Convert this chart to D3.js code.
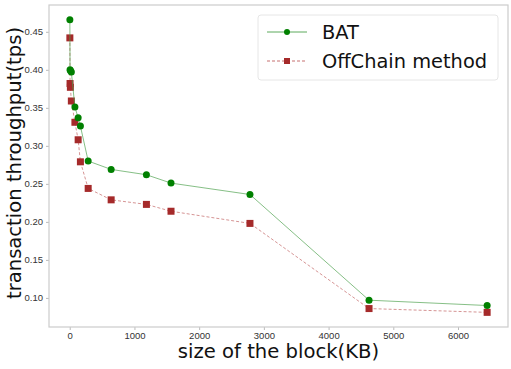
<!DOCTYPE html>
<html>
<head>
<meta charset="utf-8">
<script src="https://cdn.jsdelivr.net/npm/d3@7"></script>
<style>
  body { margin: 0; background: #fff; }
  svg { font-family: "DejaVu Sans", sans-serif; }
</style>
</head>
<body>
<svg width="511" height="369"></svg>
<script>
//	block sizes (KB), shared by both series
var blockSize = [2, 5, 10, 25, 80, 130, 165, 285, 640, 1185, 1565, 2785, 4625, 6450];
//	throughput values
var batTps = [0.466, 0.400, 0.399, 0.397, 0.351, 0.337, 0.326, 0.280, 0.269, 0.262, 0.251, 0.236, 0.097, 0.090];
var offChainTps = [0.442, 0.382, 0.377, 0.359, 0.331, 0.308, 0.279, 0.244, 0.229, 0.223, 0.214, 0.198, 0.086, 0.081];
var xTicks = [0, 1000, 2000, 3000, 4000, 5000, 6000];
var yTicks = [0.10, 0.15, 0.20, 0.25, 0.30, 0.35, 0.40, 0.45];
var seriesNames = ["BAT", "OffChain method"];

var svg = d3.select("svg"),
	margin = {top: 5, right: 3, bottom: 42, left: 49};
var width = +svg.attr("width") - margin.left - margin.right,
	height = +svg.attr("height") - margin.top - margin.bottom;
var g = svg.append("g").attr("transform", "translate(" + margin.left + "," + margin.top + ")");

//	matplotlib style 5% padding on both axes
var xPad = (6450 - 2) * 0.05;
var x = d3.scaleLinear().domain([2 - xPad, 6450 + xPad]).range([0, width]);
var yPad = (0.466 - 0.081) * 0.05;
var y = d3.scaleLinear().domain([0.081 - yPad, 0.466 + yPad]).range([height, 0]);

var batData = blockSize.map(function(d, i) { return {x: d, y: batTps[i]}; });
var offData = blockSize.map(function(d, i) { return {x: d, y: offChainTps[i]}; });

//	axes
var axisX = g.append("g")
	.attr("transform", "translate(0," + height + ")")
	.call(d3.axisBottom(x).tickValues(xTicks).tickFormat(d3.format("d")).tickSize(3).tickPadding(2));
var axisY = g.append("g")
	.call(d3.axisLeft(y).tickValues(yTicks).tickFormat(d3.format(".2f")).tickSize(3).tickPadding(3));
[axisX, axisY].forEach(function(a) {
	a.select(".domain").remove();
	a.selectAll("line").attr("stroke", "#bbb");
	a.selectAll("text").attr("fill", "#333").attr("font-size", 9.5);
});

//	frame
g.append("rect")
	.attr("width", width)
	.attr("height", height)
	.attr("fill", "none")
	.attr("stroke", "#ccc")
	.attr("stroke-width", 1.2);

var line = d3.line()
	.x(function(d) { return x(d.x); })
	.y(function(d) { return y(d.y); });

//	OffChain series: dashed, square markers
g.append("path")
	.datum(offData)
	.attr("fill", "none")
	.attr("stroke", "#c06060")
	.attr("stroke-opacity", 0.75)
	.attr("stroke-width", 0.9)
	.attr("stroke-dasharray", "3,2")
	.attr("d", line);
g.selectAll(".sq").data(offData).enter().append("rect")
	.attr("class", "sq")
	.attr("x", function(d) { return x(d.x) - 3.5; })
	.attr("y", function(d) { return y(d.y) - 3.5; })
	.attr("width", 7)
	.attr("height", 7)
	.attr("fill", "#a52a2a");

//	BAT series: solid, circle markers
g.append("path")
	.datum(batData)
	.attr("fill", "none")
	.attr("stroke", "#4aa04a")
	.attr("stroke-opacity", 0.75)
	.attr("stroke-width", 0.9)
	.attr("d", line);
g.selectAll(".dot").data(batData).enter().append("circle")
	.attr("class", "dot")
	.attr("cx", function(d) { return x(d.x); })
	.attr("cy", function(d) { return y(d.y); })
	.attr("r", 3.5)
	.attr("fill", "#008000");

//	axis labels
svg.append("text")
	.attr("x", margin.left + width / 2)
	.attr("y", 358)
	.attr("text-anchor", "middle")
	.attr("font-size", 19.6)
	.attr("fill", "#111")
	.text("size of the block(KB)");
svg.append("text")
	.attr("transform", "translate(21," + (margin.top + height / 2 - 3) + ") rotate(-90)")
	.attr("text-anchor", "middle")
	.attr("font-size", 19.6)
	.attr("fill", "#111")
	.text("transaction throughput(tps)");

//	legend
var legend = svg.append("g").attr("transform", "translate(258,15)");
legend.append("rect")
	.attr("width", 240)
	.attr("height", 65)
	.attr("rx", 3)
	.attr("fill", "#fff")
	.attr("fill-opacity", 0.8)
	.attr("stroke", "#e6e6e6");
var items = legend.selectAll(".item").data(seriesNames).enter().append("g")
	.attr("class", "item")
	.attr("transform", function(d, i) { return "translate(0," + (17 + i * 29) + ")"; });
items.append("line")
	.attr("x1", 9).attr("x2", 49)
	.attr("stroke", function(d, i) { return i == 0 ? "#4aa04a" : "#c06060"; })
	.attr("stroke-width", 0.9)
	.attr("stroke-dasharray", function(d, i) { return i == 0 ? null : "3,2"; });
items.filter(function(d, i) { return i == 0; }).append("circle")
	.attr("cx", 29).attr("r", 3).attr("fill", "#008000");
items.filter(function(d, i) { return i == 1; }).append("rect")
	.attr("x", 26).attr("y", -3).attr("width", 6).attr("height", 6).attr("fill", "#a52a2a");
items.append("text")
	.attr("x", 64)
	.attr("dy", "0.35em")
	.attr("font-size", 19.4)
	.attr("fill", "#111")
	.text(function(d) { return d; });
</script>
</body>
</html>
